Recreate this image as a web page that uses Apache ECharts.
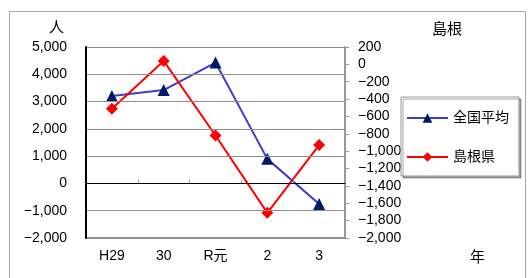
<!DOCTYPE html>
<html>
<head>
<meta charset="utf-8">
<script src="https://cdn.jsdelivr.net/npm/echarts@6/dist/echarts.min.js"></script>
<style>
  html, body { margin: 0; padding: 0; background: #fff; }
  #chart { width: 529px; height: 278px; }
</style>
</head>
<body>
<div id="chart"></div>
<script>
  // 年度
  let years = ['H29', '30', 'R元', '2', '3']
  // 全国平均（左軸）
  let zenkoku = [3200, 3420, 4430, 900, -750]
  // 島根県（右軸）
  let shimane = [-510, 40, -820, -1710, -930]

  let FONT = "'Liberation Sans', 'Noto Sans CJK JP', sans-serif"

  function fmt(v) {
    let s = Math.abs(v).toString().replace(/\B(?=(\d{3})+(?!\d))/g, ',')
    return v < 0 ? '\u2212' + s : s
  }

  let dom = document.getElementById('chart')
  let myChart = echarts.init(dom, null, { renderer: 'canvas' })
  let option = {
    animation: false,
    textStyle: { fontFamily: FONT },
    grid: { left: 86, right: 184, top: 47, bottom: 40, containLabel: false },
    graphic: [
      {
        type: 'rect', z: -10, silent: true,
        shape: { x: 9.5, y: 11.5, width: 516, height: 290 },
        style: { fill: '#fff', stroke: '#a6a6a6', lineWidth: 1 }
      },
      { type: 'text', left: 49, top: 20, style: { text: '人', fontSize: 15, fill: '#000', fontFamily: FONT } },
      { type: 'text', left: 432, top: 22, style: { text: '島根', fontSize: 15, fill: '#000', fontFamily: FONT } },
      { type: 'text', left: 470, top: 250, style: { text: '年', fontSize: 15, fill: '#000', fontFamily: FONT } }
    ],
    legend: {
      orient: 'vertical',
      left: 401,
      top: 97,
      width: 117,
      padding: [14, 10, 12, 5],
      itemGap: 25,
      itemWidth: 41,
      itemHeight: 12,
      backgroundColor: '#fff',
      borderColor: '#999',
      borderWidth: 1,
      shadowColor: 'rgba(0,0,0,0.35)',
      shadowOffsetX: 2,
      shadowOffsetY: 2,
      shadowBlur: 0,
      textStyle: { fontSize: 14, color: '#000', fontFamily: FONT },
      data: ['全国平均', '島根県']
    },
    xAxis: [{
      type: 'category',
      data: years,
      boundaryGap: true,
      z: 6,
      axisLine: { onZero: true, lineStyle: { color: '#000', width: 1 } },
      axisTick: { show: true, inside: true, length: 4, lineStyle: { color: '#999' } },
      axisLabel: { show: false }
    }, {
      type: 'category',
      data: years,
      position: 'bottom',
      boundaryGap: true,
      z: 4,
      axisLine: { onZero: false, lineStyle: { color: '#999', width: 2 } },
      axisTick: { show: false },
      axisLabel: { color: '#000', fontSize: 14, margin: 11, fontFamily: FONT }
    }],
    yAxis: [{
      type: 'value',
      min: -2000,
      max: 5000,
      interval: 1000,
      z: 7,
      axisLine: { show: true, onZero: false, lineStyle: { color: '#000', width: 2 } },
      axisTick: { show: false },
      splitLine: {
        show: true,
        lineStyle: { color: ['#8c8c8c', '#8c8c8c', '#000', '#8c8c8c', '#8c8c8c', '#8c8c8c', '#8c8c8c', '#8c8c8c'], width: 1 }
      },
      axisLabel: { color: '#000', fontSize: 14, margin: 19, formatter: fmt, fontFamily: FONT }
    }, {
      type: 'value',
      min: -2000,
      max: 200,
      interval: 200,
      position: 'right',
      axisLine: { show: true, onZero: false, lineStyle: { color: '#999', width: 2 } },
      axisTick: { show: true, length: 4, lineStyle: { color: '#999' } },
      splitLine: { show: false },
      axisLabel: { color: '#000', fontSize: 14, margin: 13, formatter: fmt, fontFamily: FONT }
    }],
    series: [{
      name: '全国平均',
      type: 'line',
      xAxisIndex: 0,
      yAxisIndex: 0,
      data: zenkoku,
      symbol: 'triangle',
      symbolSize: 12,
      lineStyle: { color: '#3d3dcc', width: 2 },
      itemStyle: { color: '#001a66', borderWidth: 0 }
    }, {
      name: '島根県',
      type: 'line',
      xAxisIndex: 0,
      yAxisIndex: 1,
      data: shimane,
      symbol: 'diamond',
      symbolSize: 12,
      lineStyle: { color: '#ff0000', width: 2 },
      itemStyle: { color: '#ff0000', borderWidth: 0 }
    }]
  }
  myChart.setOption(option)
</script>
</body>
</html>
